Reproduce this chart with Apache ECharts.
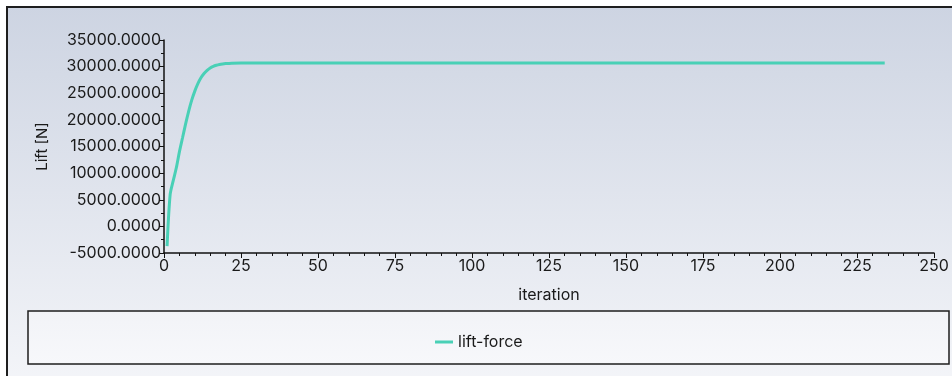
<!DOCTYPE html>
<html>
<head>
<meta charset="utf-8">
<script src="https://cdn.jsdelivr.net/npm/echarts@6/dist/echarts.min.js"></script>
<style>
html,body{margin:0;padding:0;background:#fff;}
#c{width:952px;height:376px;}
</style>
</head>
<body>
<div id="c"></div>
<script>
var iterations = [1,2,3,4,5,6,7,8,9,10,11,12,13,14,15,16,17,18,19,20,22,25,30,50,100,150,200,234];
var liftForce = [-3700,6000,8600,11000,14000,16600,19200,21600,23700,25400,26800,27900,28700,29300,29750,30050,30250,30400,30500,30570,30650,30690,30700,30700,30700,30700,30700,30700];
var yTicks = [-5000,0,5000,10000,15000,20000,25000,30000,35000];
var xTicks = [0,25,50,75,100,125,150,175,200,225,250];
var seriesName = 'lift-force';

var data = iterations.map(function(it,i){return [it, liftForce[i]];});
var font = 'Inter, "Noto Sans", sans-serif';
var chart = echarts.init(document.getElementById('c'));
chart.setOption({
  animation:false,
  backgroundColor:'#ffffff',
  graphic:[
    {type:'rect', z:-10, shape:{x:7,y:7,width:960,height:400},
     style:{fill:new echarts.graphic.LinearGradient(0,0,0,1,[{offset:0,color:'#cdd4e2'},{offset:1,color:'#f6f7fa'}]),
            stroke:'#1e1e1e', lineWidth:2}},
    {type:'rect', z:-9, shape:{x:28,y:311,width:921,height:53},
     style:{fill:new echarts.graphic.LinearGradient(0,0,0,1,[{offset:0,color:'#f2f3f7'},{offset:1,color:'#f7f8fb'}]),
            stroke:'#1e1e1e', lineWidth:1.5}}
  ],
  grid:{left:164,right:18,top:40,bottom:123},
  legend:{left:430, top:329, itemWidth:18, itemHeight:3, icon:'rect', itemGap:8,
    textStyle:{fontFamily:font,fontSize:16,color:'#1a1a1a'},
    data:[seriesName]},
  xAxis:{type:'value', min:0, max:250, interval:25,
    name:'iteration', nameLocation:'middle', nameGap:34,
    nameTextStyle:{fontFamily:font,fontSize:16,color:'#1a1a1a'},
    axisLine:{onZero:false,lineStyle:{color:'#111',width:1.5}},
    axisTick:{show:true,length:5,lineStyle:{color:'#111'}},
    minorTick:{show:true,splitNumber:5,length:3,lineStyle:{color:'#111'}},
    splitLine:{show:false},
    axisLabel:{fontFamily:font,fontSize:16,color:'#1a1a1a',margin:5,
      formatter:function(v){return xTicks.indexOf(v)>=0?String(v):'';}}},
  yAxis:{type:'value', min:-5000, max:35000, interval:5000,
    name:'Lift [N]', nameLocation:'middle', nameGap:114,
    nameTextStyle:{fontFamily:font,fontSize:15,color:'#1a1a1a'},
    axisLine:{show:true,onZero:false,lineStyle:{color:'#111',width:1.5}},
    axisTick:{show:true,length:5,lineStyle:{color:'#111'}},
    minorTick:{show:true,splitNumber:2,length:3,lineStyle:{color:'#111'}},
    splitLine:{show:false},
    axisLabel:{fontFamily:font,fontSize:16,color:'#1a1a1a',margin:3,
      formatter:function(v){return yTicks.indexOf(v)>=0?v.toFixed(4):'';}}},
  series:[{name:seriesName,type:'line',data:data,showSymbol:false,smooth:0.3,
    lineStyle:{color:'#49d0b6',width:3},itemStyle:{color:'#49d0b6'}}]
});
</script>
</body>
</html>
